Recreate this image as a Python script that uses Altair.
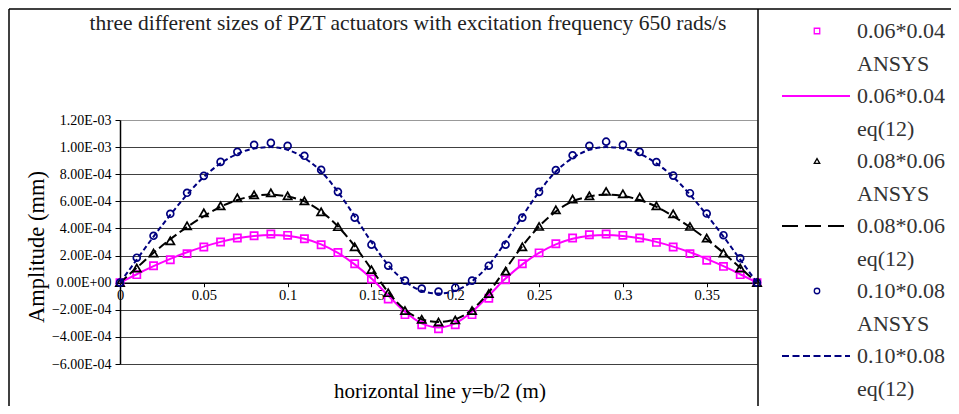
import altair as alt
import pandas as pd

# ---------------- data (amplitudes in units of 1e-3 mm) ----------------
x_pos = [0.00, 0.01, 0.02, 0.03, 0.04, 0.05, 0.06, 0.07, 0.08, 0.09,
         0.10, 0.11, 0.12, 0.13, 0.14, 0.15, 0.16, 0.17, 0.18, 0.19,
         0.20, 0.21, 0.22, 0.23, 0.24, 0.25, 0.26, 0.27, 0.28, 0.29,
         0.30, 0.31, 0.32, 0.33, 0.34, 0.35, 0.36, 0.37, 0.38]

ansys_006 = [0, 0.059, 0.125, 0.169, 0.214, 0.263, 0.300, 0.329, 0.346, 0.359,
             0.349, 0.324, 0.280, 0.223, 0.140, 0.027, -0.120, -0.236, -0.310, -0.340,
             -0.310, -0.236, -0.115, 0.022, 0.140, 0.220, 0.287, 0.330, 0.354, 0.359,
             0.349, 0.329, 0.297, 0.263, 0.214, 0.165, 0.120, 0.059, 0]
eq_006 = [0, 0.062, 0.122, 0.176, 0.224, 0.266, 0.301, 0.328, 0.345, 0.352,
          0.346, 0.324, 0.283, 0.220, 0.135, 0.030, -0.095, -0.215, -0.300, -0.330,
          -0.300, -0.215, -0.095, 0.030, 0.135, 0.220, 0.283, 0.324, 0.346, 0.352,
          0.345, 0.328, 0.301, 0.266, 0.224, 0.176, 0.122, 0.062, 0]
ansys_008 = [0, 0.108, 0.219, 0.309, 0.420, 0.515, 0.567, 0.626, 0.648, 0.663,
             0.641, 0.604, 0.523, 0.413, 0.265, 0.096, -0.074, -0.206, -0.270, -0.290,
             -0.275, -0.206, -0.080, 0.085, 0.265, 0.415, 0.538, 0.617, 0.641, 0.673,
             0.656, 0.631, 0.567, 0.508, 0.415, 0.329, 0.219, 0.108, 0]
eq_008 = [0, 0.110, 0.220, 0.320, 0.410, 0.490, 0.560, 0.610, 0.640, 0.650,
          0.635, 0.600, 0.525, 0.415, 0.270, 0.100, -0.070, -0.200, -0.270, -0.290,
          -0.270, -0.200, -0.070, 0.100, 0.270, 0.415, 0.525, 0.600, 0.635, 0.650,
          0.640, 0.610, 0.560, 0.490, 0.410, 0.320, 0.220, 0.110, 0]
ansys_010 = [0, 0.184, 0.346, 0.508, 0.663, 0.788, 0.891, 0.965, 1.017, 1.031,
             1.009, 0.936, 0.832, 0.670, 0.479, 0.280, 0.125, 0.015, -0.044, -0.066,
             -0.037, 0.015, 0.125, 0.280, 0.480, 0.670, 0.830, 0.940, 1.010, 1.040,
             1.017, 0.965, 0.890, 0.790, 0.660, 0.510, 0.350, 0.180, 0]
eq_010 = [0, 0.170, 0.340, 0.500, 0.650, 0.780, 0.880, 0.950, 0.990, 1.000,
          0.980, 0.920, 0.820, 0.670, 0.490, 0.300, 0.130, 0.010, -0.060, -0.080,
          -0.060, 0.010, 0.130, 0.300, 0.490, 0.670, 0.820, 0.920, 0.980, 1.000,
          0.990, 0.950, 0.880, 0.780, 0.650, 0.500, 0.340, 0.170, 0]

x_ticks = [0, 0.05, 0.1, 0.15, 0.2, 0.25, 0.3, 0.35]
y_ticks = [-0.0006, -0.0004, -0.0002, 0.0, 0.0002, 0.0004, 0.0006, 0.0008, 0.001, 0.0012]

legend_labels = ["0.06*0.04", "ANSYS", "0.06*0.04", "eq(12)",
                 "0.08*0.06", "ANSYS", "0.08*0.06", "eq(12)",
                 "0.10*0.08", "ANSYS", "0.10*0.08", "eq(12)"]

title_text = "three different sizes of PZT actuators with excitation frequency 650 rads/s"

MAGENTA = "#FF00FF"
BLACK = "#000000"
NAVY = "#000080"
SERIF = "Liberation Serif"

W, H = 637, 244
LEG_Y0, LEG_DY = -89, 32.5


def frame(vals):
    return pd.DataFrame({"x": x_pos, "y": [v * 1e-3 for v in vals]})


x_enc = alt.X(
    "x:Q",
    scale=alt.Scale(domain=[0, 0.38], nice=False, zero=False),
    axis=alt.Axis(values=x_ticks, format="~g", offset=-81.3, grid=False,
                  domainColor="black", domainWidth=1.5, tickColor="black",
                  tickSize=4, labelFont=SERIF, labelFontSize=14.5, labelColor="black",
                  labelPadding=2, labelFlush=False),
    title=None,
)
y_enc = alt.Y(
    "y:Q",
    scale=alt.Scale(domain=[-0.0006, 0.0012], nice=False, zero=False),
    axis=alt.Axis(values=y_ticks,
                  labelExpr="replace(replace(upper(format(datum.value, '.2e')), 'E-', 'E-0'), 'E+', 'E+0')",
                  grid=True,
                  gridColor={"condition": {"test": "datum.value > 0.00115", "value": "#999999"},
                             "value": "#404040"},
                  gridWidth=1, domainColor="black", domainWidth=1.5,
                  tickColor="black", tickSize=5, labelFont=SERIF, labelFontSize=14,
                  labelColor="black", labelPadding=4),
    title=None,
)


def line_layer(vals, color, dash):
    kw = dict(color=color, strokeWidth=2, interpolate="monotone")
    if dash:
        kw["strokeDash"] = dash
    return alt.Chart(frame(vals)).mark_line(**kw).encode(x=x_enc, y=y_enc)


def point_layer(vals, color, shape, size):
    return alt.Chart(frame(vals)).mark_point(
        shape=shape, color=color, filled=False, size=size, strokeWidth=1.7, opacity=1
    ).encode(x=x_enc, y=y_enc)


layers = [
    point_layer(ansys_006, MAGENTA, "square", 52),
    line_layer(eq_006, MAGENTA, None),
    point_layer(ansys_008, BLACK, "triangle-up", 68),
    line_layer(eq_008, BLACK, [9, 4]),
    point_layer(ansys_010, NAVY, "circle", 48),
    line_layer(eq_010, NAVY, [5, 3]),
]

one = pd.DataFrame({"k": [0]})

# title and axis titles
layers.append(alt.Chart(one).mark_text(
    text=title_text, font=SERIF, fontSize=21.5, color="#222222", align="center", baseline="middle"
).encode(x=alt.value(288), y=alt.value(-96)))
layers.append(alt.Chart(one).mark_text(
    text="horizontal line  y=b/2 (m)", font=SERIF, fontSize=21, color="black",
    align="center", baseline="middle"
).encode(x=alt.value(320), y=alt.value(272)))
layers.append(alt.Chart(one).mark_text(
    text="Amplitude  (mm)", font=SERIF, fontSize=22.5, color="black", angle=270,
    align="center", baseline="middle"
).encode(x=alt.value(-83), y=alt.value(127)))

# borders of chart area and legend box
for enc in [
    dict(x=alt.value(-111), y=alt.value(-111), y2=alt.value(300)),
    dict(x=alt.value(-111), x2=alt.value(840), y=alt.value(-111)),
    dict(x=alt.value(638), y=alt.value(-111), y2=alt.value(300)),
]:
    layers.append(alt.Chart(one).mark_rule(color="black", strokeWidth=1.5).encode(**enc))

# legend
for i, lab in enumerate(legend_labels):
    layers.append(alt.Chart(one).mark_text(
        text=lab, font=SERIF, fontSize=22, color="#333333", align="left", baseline="middle"
    ).encode(x=alt.value(737), y=alt.value(LEG_Y0 + i * LEG_DY)))

legend_points = [(MAGENTA, "square", 0), (BLACK, "triangle-up", 4), (NAVY, "circle", 8)]
for color, shape, row in legend_points:
    layers.append(alt.Chart(one).mark_point(
        shape=shape, color=color, filled=False, size=30, strokeWidth=1.3, opacity=1
    ).encode(x=alt.value(697), y=alt.value(LEG_Y0 + row * LEG_DY)))

legend_lines = [(MAGENTA, None, 2), (BLACK, [16, 7], 6), (NAVY, [7, 3.5], 10)]
for color, dash, row in legend_lines:
    kw = dict(color=color, strokeWidth=2.2)
    if dash:
        kw["strokeDash"] = dash
    layers.append(alt.Chart(one).mark_rule(**kw).encode(
        x=alt.value(662), x2=alt.value(730), y=alt.value(LEG_Y0 + row * LEG_DY)))

chart = alt.layer(*layers).properties(
    width=W, height=H,
    autosize=alt.AutoSizeParams(type="none"),
    padding={"left": 112, "top": 112, "right": 194, "bottom": 42},
).configure_view(stroke="#888888", strokeWidth=1.5).configure(background="white")

chart.save("out.html", embed_options={"renderer": "svg", "actions": False})
